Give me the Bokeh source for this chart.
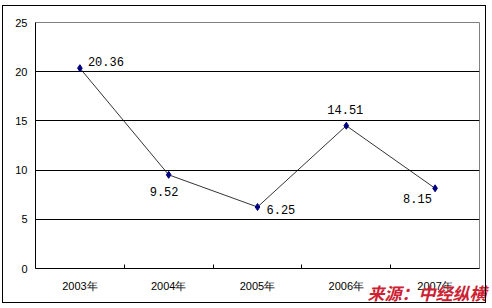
from bokeh.plotting import figure
from bokeh.models import (Range1d, FixedTicker, ColumnDataSource, Label, InlineStyleSheet)
from bokeh.core.properties import value
from bokeh.embed import file_html
from bokeh.resources import INLINE

years = ["2003年", "2004年", "2005年", "2006年", "2007年"]
values = [20.36, 9.52, 6.25, 14.51, 8.15]
labels = ["20.36", "9.52", "6.25", "14.51", "8.15"]
y_ticks = [0, 5, 10, 15, 20, 25]
source_text = "来源：中经纵横"

xs = [i + 0.5 for i in range(len(years))]
# label placement (pixels) relative to each point (positive dy = down)
lab_dx = [8, -19, 9, -19, -32]
lab_dy = [-7, 17, 2, -16, 10]

SHIFT = 3  # the source label's panel is 26px tall; lift the canvas by 3px
W, H = 492, 308 + SHIFT
ML, MR, MT, MB = 35, 13, 23, 40
nx = len(years)
ymax = 25.0

p = figure(width=W, height=H, output_backend="svg", toolbar_location=None,
           x_range=Range1d(0, nx), y_range=Range1d(0, ymax),
           min_border_left=ML, min_border_right=MR, min_border_top=MT,
           min_border_bottom=MB, margin=(-SHIFT, 0, 0, 0))
p.outline_line_color = "#808080"
p.outline_line_width = 1
p.background_fill_color = "white"
p.border_fill_color = "white"

p.xgrid.grid_line_color = None
p.ygrid.ticker = FixedTicker(ticks=[t for t in y_ticks if 0 < t < 25])
p.ygrid.grid_line_color = "black"
p.ygrid.grid_line_width = 1

xa = p.xaxis[0]
xa.ticker = FixedTicker(ticks=xs, minor_ticks=[1, 2, 3, 4])
xa.major_label_overrides = {x: y for x, y in zip(xs, years)}
xa.major_tick_line_color = None
xa.major_tick_in = 0
xa.major_tick_out = 0
xa.minor_tick_in = 4
xa.minor_tick_out = 0
xa.minor_tick_line_color = "black"
xa.axis_line_color = "black"
xa.major_label_standoff = 11
xa.major_label_text_font = "Liberation Sans"
xa.major_label_text_font_size = "11px"
xa.major_label_text_color = "black"

ya = p.yaxis[0]
ya.ticker = FixedTicker(ticks=y_ticks)
ya.major_tick_line_color = None
ya.major_tick_in = 0
ya.major_tick_out = 0
ya.minor_tick_line_color = None
ya.minor_tick_in = 0
ya.minor_tick_out = 0
ya.axis_line_color = "black"
ya.major_label_standoff = 8
ya.major_label_text_font = "Liberation Sans"
ya.major_label_text_font_size = "11px"
ya.major_label_text_color = "black"

src = ColumnDataSource(dict(x=xs, y=values, lab=labels, dx=lab_dx, dy=lab_dy))
p.line("x", "y", source=src, line_color="black", line_width=0.8)
p.scatter("x", "y", source=src, marker="diamond", size=7,
          fill_color="#000080", line_color="#000080")
p.text("x", "y", text="lab", source=src, x_offset="dx", y_offset="dy",
       text_font=value("Liberation Mono"), text_font_size="12px",
       text_baseline="middle", text_align="left", text_color="black")

# outer chart-area border
p.stylesheets = [InlineStyleSheet(css="""
:host { position: relative; }
:host::after { content: ""; position: absolute; left: 2px; top: %dpx;
  width: 482px; height: 296px; border: 1px solid black; pointer-events: none; }
""" % (5 + SHIFT))]

src_lab = Label(x=367, y=304 + SHIFT, x_units="canvas", y_units="canvas", text=source_text,
                text_font="Noto Sans CJK SC", text_font_style="bold italic",
                text_font_size="17px", text_line_height=0.9,
                text_color="#cc2233", text_baseline="bottom")
p.add_layout(src_lab, "above")

open("out.html", "w").write(file_html(p, INLINE))
